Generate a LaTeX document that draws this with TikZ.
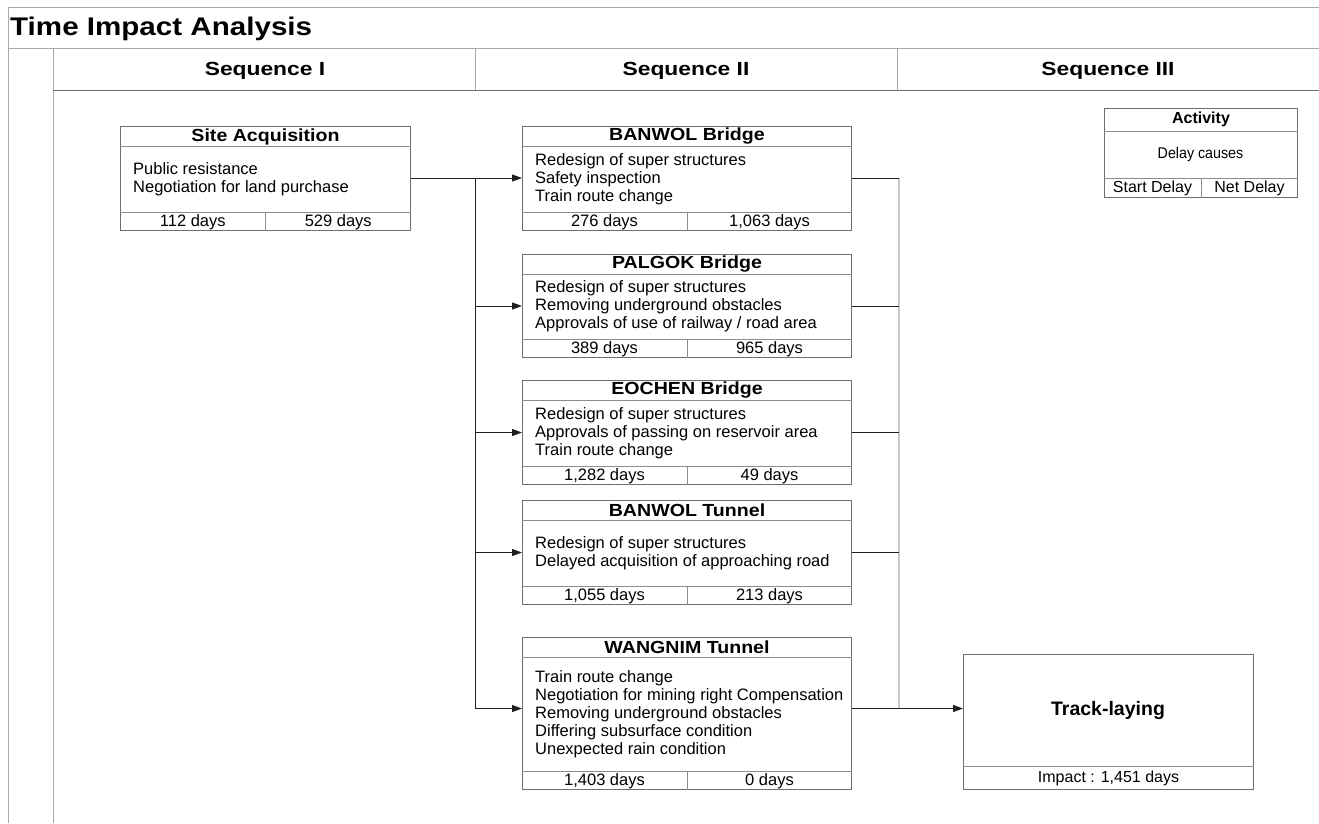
\documentclass[tikz,border=0pt]{standalone}
\usepackage{fontspec}
\usepackage{graphicx}
\setmainfont{Liberation Sans}
\usetikzlibrary{arrows.meta,calc}
\definecolor{framec}{HTML}{A8A8A8}
\definecolor{boxline}{HTML}{6E6E6E}
\definecolor{sepline}{HTML}{8C8C8C}
\definecolor{connc}{HTML}{1E1E1E}
\definecolor{mergec}{HTML}{C8C8C8}
\newcommand{\hstretch}[2]{\scalebox{#1}[1]{#2}}
\tikzset{
  frameline/.style={draw=framec, line width=1pt},
  actframe/.style={draw=boxline, line width=1pt, inner sep=0pt, fill=white},
  sepl/.style={draw=sepline, line width=0.8pt},
  ttl/.style={font=\fontsize{17.5}{19}\selectfont\bfseries, inner sep=0pt},
  bodytxt/.style={font=\fontsize{16.5}{18}\selectfont, align=left, inner sep=0pt, anchor=west},
  daytxt/.style={font=\fontsize{16.5}{18}\selectfont, inner sep=0pt},
  legtxt/.style={font=\fontsize{16}{18}\selectfont, inner sep=0pt},
  conn/.style={draw=connc, line width=0.9pt},
  arr/.style={conn, -{Triangle[length=10pt,width=7pt]}},
  mergel/.style={draw=mergec, line width=1.2pt},
  seqtxt/.style={font=\fontsize{19}{21}\selectfont\bfseries, inner sep=0pt},
}
% #1 name, #2 north-west corner, #3 width, #4 height, #5 title, #6 body, #7 start, #8 net
\newcommand{\actbox}[8]{%
  \node[actframe, minimum width=#3, minimum height=#4, anchor=north west] (#1) at (#2) {};
  \draw[sepl] ([yshift=-20]#1.north west) -- ([yshift=-20]#1.north east);
  \draw[sepl] ([yshift=19]#1.south west) -- ([yshift=19]#1.south east);
  \draw[sepl] ([yshift=19]#1.south) -- (#1.south);
  \node[ttl] (#1-t) at ([yshift=-10.5]#1.north) {\hstretch{1.12}{#5}};
  \node[bodytxt] (#1-b) at ($([xshift=13,yshift=-20]#1.north west)!0.5!([xshift=13,yshift=19]#1.south west)$) {#6};
  \node[daytxt] (#1-s) at ([yshift=9]$(#1.south west)!0.25!(#1.south east)$) {#7};
  \node[daytxt] (#1-n) at ([yshift=9]$(#1.south west)!0.75!(#1.south east)$) {#8};
}
\begin{document}
\begin{tikzpicture}[x=1pt,y=-1pt]
\useasboundingbox (0,0) rectangle (1319,823);
% frame
\draw[frameline] (8,823) -- (8,7) -- (1319,7);
\draw[frameline] (8,48) -- (1319,48);
\draw[frameline] (53,823) -- (53,48);
\draw[frameline] (475,48) -- (475,90);
\draw[frameline] (897,48) -- (897,90);
\draw[draw=boxline, line width=1pt] (53,90) -- (1319,90);
\node[font=\fontsize{25.5}{28}\selectfont\bfseries, anchor=west, inner sep=0pt] (title) at (10,28.5) {\hstretch{1.16}{Time Impact Analysis}};
\node[seqtxt] (seq1) at (265,70.5) {\hstretch{1.2}{Sequence I}};
\node[seqtxt] (seq2) at (686,70.5) {\hstretch{1.2}{Sequence II}};
\node[seqtxt] (seq3) at (1108,70.5) {\hstretch{1.2}{Sequence III}};

% activity boxes
\actbox{site}{120,126}{290}{104}{Site Acquisition}{Public resistance\\Negotiation for land purchase}{112 days}{529 days}
\actbox{banwol}{522,126}{329}{104}{BANWOL Bridge}{Redesign of super structures\\Safety inspection\\Train route change}{276 days}{1,063 days}
\actbox{palgok}{522,254}{329}{103}{PALGOK Bridge}{Redesign of super structures\\Removing underground obstacles\\Approvals of use of railway / road area}{389 days}{965 days}
\actbox{eochen}{522,380}{329}{104}{EOCHEN Bridge}{Redesign of super structures\\Approvals of passing on reservoir area\\Train route change}{1,282 days}{49 days}
\actbox{btunnel}{522,500}{329}{104}{BANWOL Tunnel}{Redesign of super structures\\Delayed acquisition of approaching road}{1,055 days}{213 days}
\actbox{wangnim}{522,637}{329}{152}{WANGNIM Tunnel}{Train route change\\Negotiation for mining right Compensation\\Removing underground obstacles\\Differing subsurface condition\\Unexpected rain condition}{1,403 days}{0 days}

% track-laying
\node[actframe, minimum width=290, minimum height=135, anchor=north west] (track) at (963,654) {};
\draw[sepl] ([yshift=24]track.south west) -- ([yshift=24]track.south east);
\node[font=\fontsize{19.5}{21}\selectfont\bfseries, inner sep=0pt] (track-t) at (1108,710) {Track-laying};
\node[legtxt] (track-i) at ([yshift=12]track.south) {Impact : 1,451 days};

% legend
\node[actframe, minimum width=193, minimum height=89, anchor=north west] (legend) at (1104,108) {};
\draw[sepl] ([yshift=-23]legend.north west) -- ([yshift=-23]legend.north east);
\draw[sepl] ([yshift=20]legend.south west) -- ([yshift=20]legend.south east);
\draw[sepl] ([yshift=20]legend.south) -- (legend.south);
\node[font=\fontsize{16}{18}\selectfont\bfseries, inner sep=0pt] (legend-t) at ([yshift=-11.5]legend.north) {Activity};
\node[font=\fontsize{15.5}{17}\selectfont, inner sep=0pt] (legend-b) at (1200.5,154) {\hstretch{0.92}{Delay causes}};
\node[legtxt] (legend-s) at ([yshift=10]$(legend.south west)!0.25!(legend.south east)$) {Start Delay};
\node[legtxt] (legend-n) at ([yshift=10]$(legend.south west)!0.75!(legend.south east)$) {Net Delay};

% connectors
\coordinate (split) at (475,178);
\coordinate (wn-in) at ([yshift=5]wangnim.west);
\draw[arr] (site.east |- split) -- (banwol.west |- split);
\draw[conn] (split) -- (split |- wn-in);
\draw[arr] (split |- palgok.west) -- (palgok.west);
\draw[arr] (split |- eochen.west) -- (eochen.west);
\draw[arr] (split |- btunnel.west) -- (btunnel.west);
\draw[arr] (split |- wn-in) -- (wn-in);

\coordinate (merge) at (899,178);
\draw[mergel] (merge) -- (merge |- wn-in);
\draw[conn] (banwol.east |- merge) -- (merge);
\draw[conn] (palgok.east) -- (merge |- palgok.east);
\draw[conn] (eochen.east) -- (merge |- eochen.east);
\draw[conn] (btunnel.east) -- (merge |- btunnel.east);
\draw[arr] (wangnim.east |- wn-in) -- (track.west |- wn-in);
\end{tikzpicture}
\end{document}
